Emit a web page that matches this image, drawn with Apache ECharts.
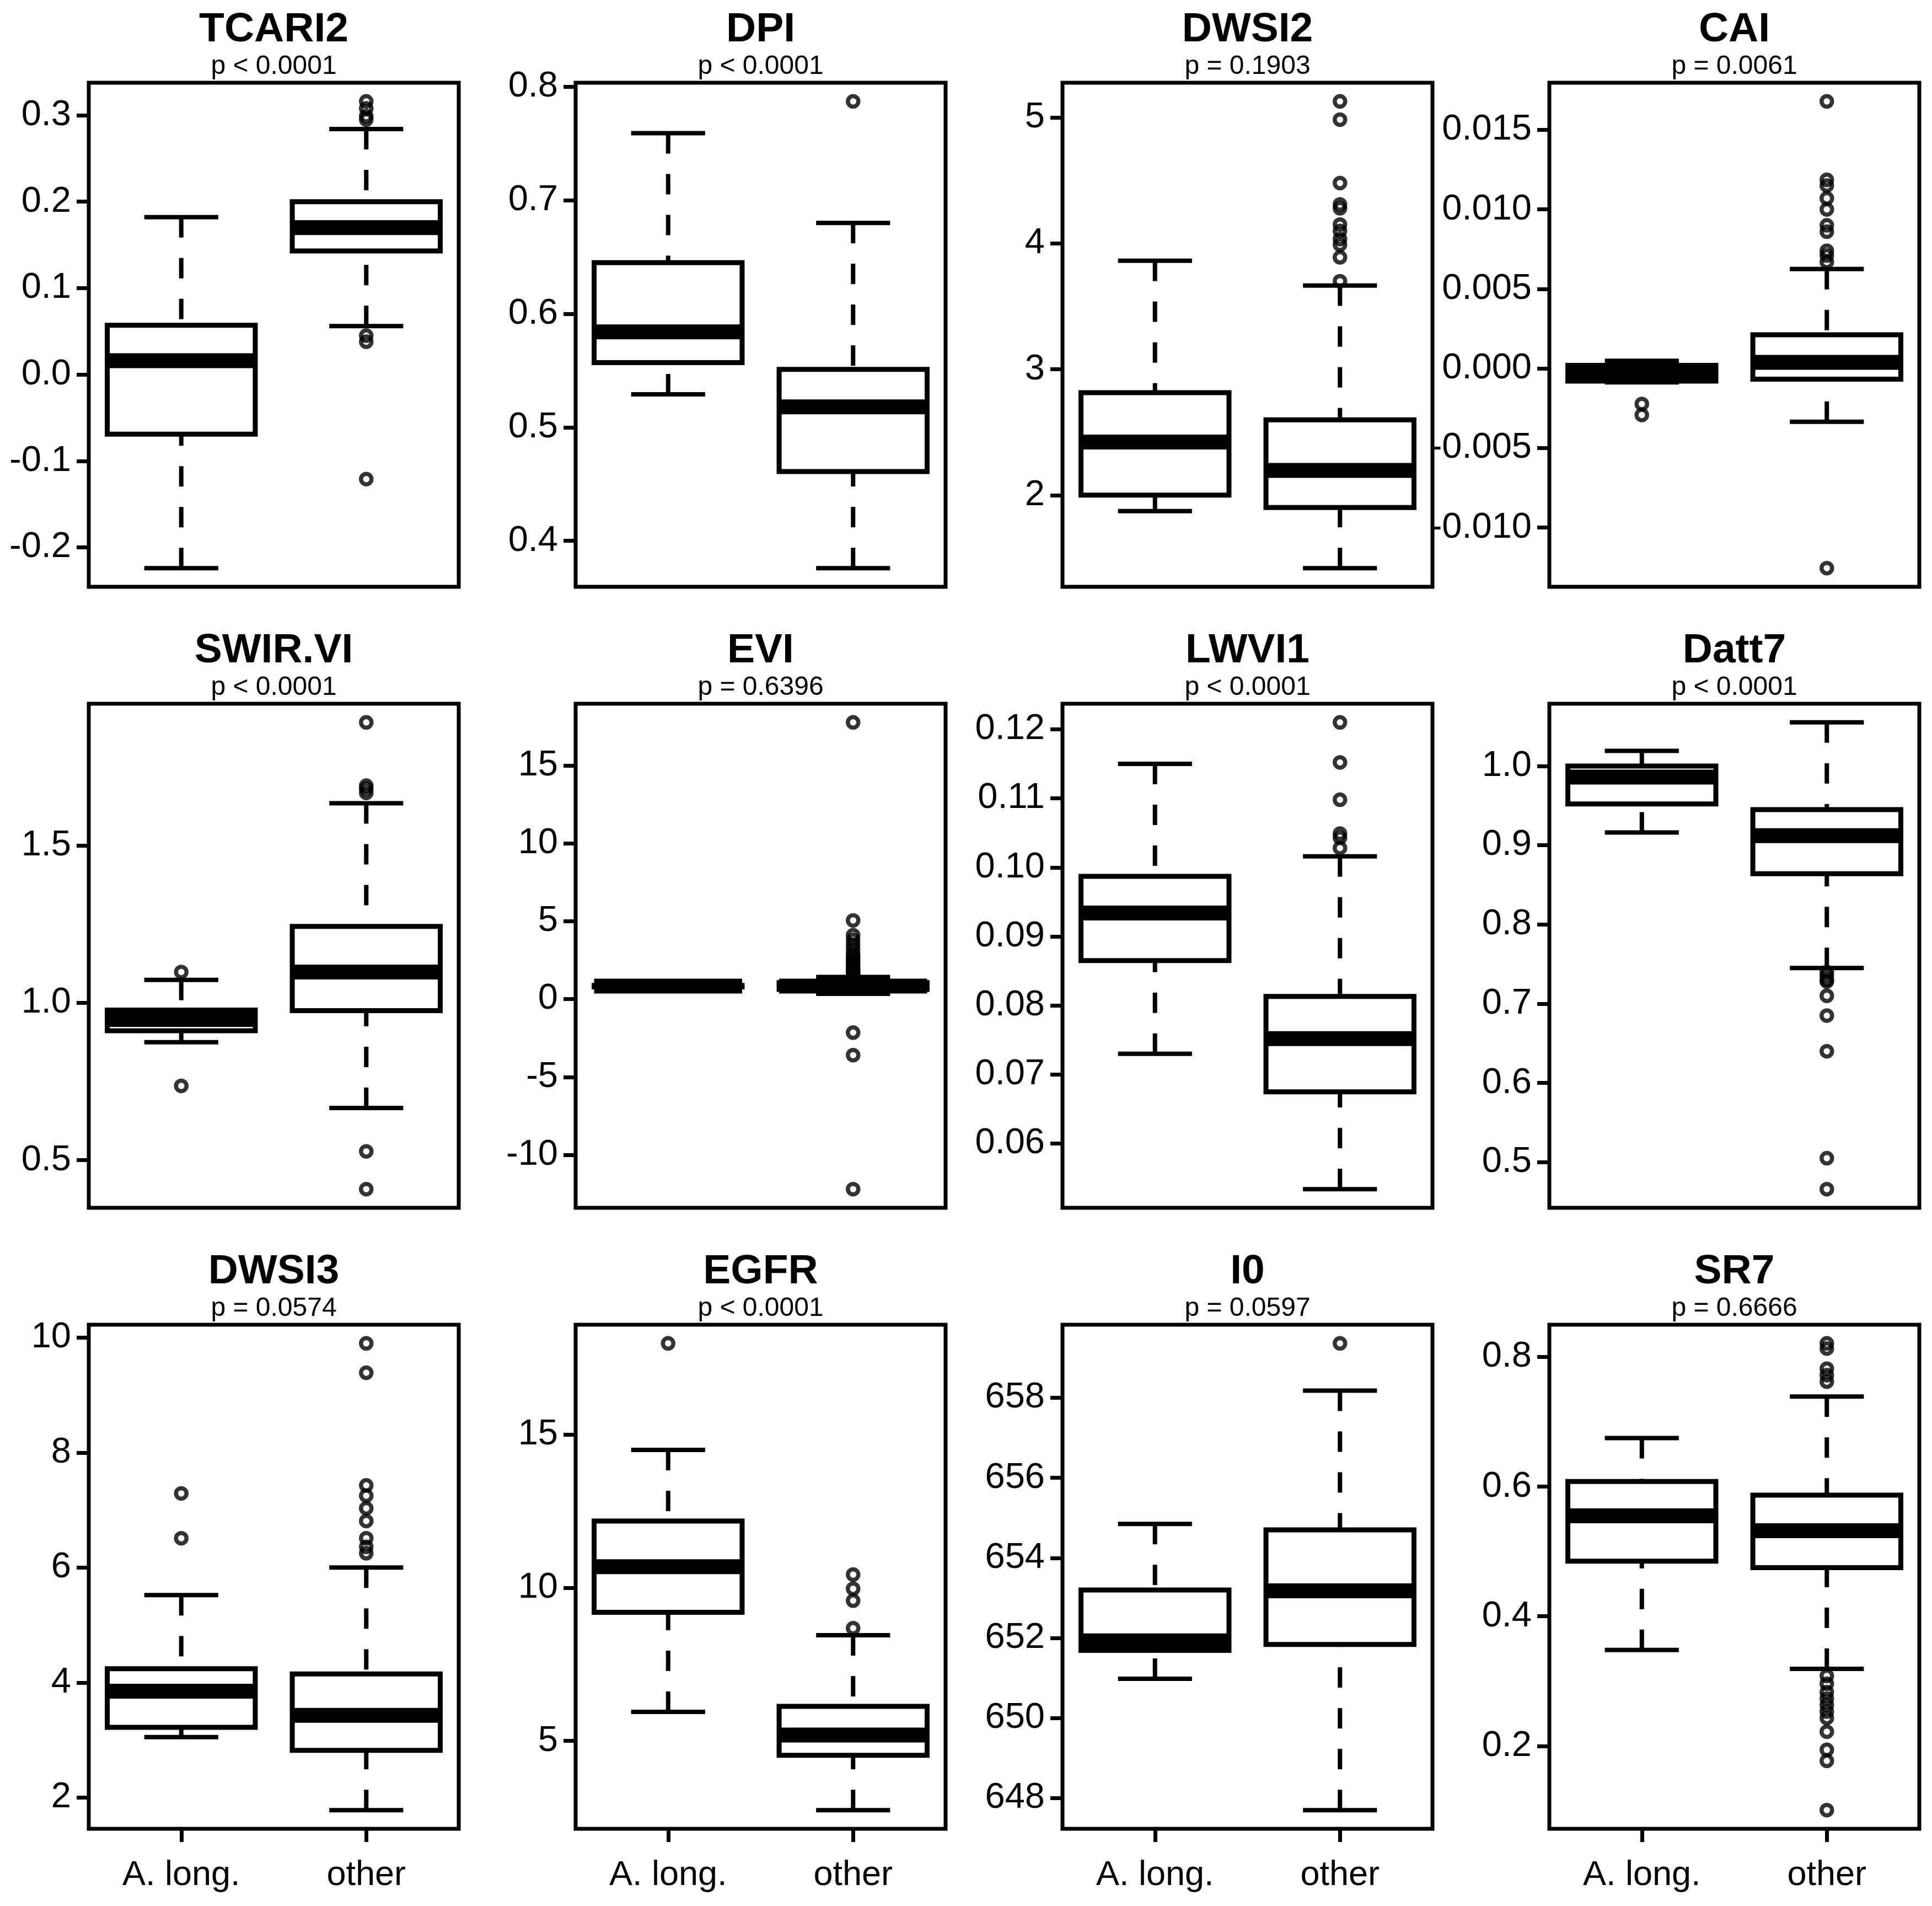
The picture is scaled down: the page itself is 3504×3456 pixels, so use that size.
<!DOCTYPE html>
<html>
<head>
<meta charset="utf-8">
<script src="https://cdn.jsdelivr.net/npm/echarts@6/dist/echarts.min.js"></script>
<style>
  html, body { margin: 0; padding: 0; background: #fff; }
  #chart { width: 3504px; height: 3456px; }
</style>
</head>
<body>
<div id="chart"></div>
<script>
// groups on the x axis
var groups = ['A. long.', 'other'];

// panel titles and p-values
var titles = ['TCARI2', 'DPI', 'DWSI2', 'CAI', 'SWIR.VI', 'EVI', 'LWVI1', 'Datt7', 'DWSI3', 'EGFR', 'I0', 'SR7'];
var pLabels = ['p < 0.0001', 'p < 0.0001', 'p = 0.1903', 'p = 0.0061',
  'p < 0.0001', 'p = 0.6396', 'p < 0.0001', 'p < 0.0001',
  'p = 0.0574', 'p < 0.0001', 'p = 0.0597', 'p = 0.6666'];

// box stats: [lower whisker, Q1, median, Q3, upper whisker] for A. long. / other
var tcari2Box = [[-0.224, -0.069, 0.016, 0.057, 0.182], [0.056, 0.143, 0.170, 0.200, 0.284]];
var dpiBox = [[0.529, 0.557, 0.584, 0.645, 0.759], [0.376, 0.461, 0.518, 0.551, 0.680]];
var dwsi2Box = [[1.873, 2.0, 2.422, 2.814, 3.863], [1.42, 1.902, 2.196, 2.598, 3.666]];
var caiBox = [[-0.00087, -0.00079, -0.00029, 0.0002, 0.00048], [-0.00335, -0.00067, 0.00039, 0.00212, 0.00625]];
var swirBox = [[0.875, 0.911, 0.947, 0.977, 1.073], [0.666, 0.975, 1.098, 1.243, 1.634]];
var eviBox = [[0.72, 0.78, 0.83, 0.88, 0.94], [0.34, 0.62, 0.83, 1.05, 1.42]];
var lwvi1Box = [[0.0730, 0.0865, 0.0934, 0.0987, 0.1150], [0.0534, 0.0675, 0.0752, 0.0813, 0.1016]];
var datt7Box = [[0.916, 0.952, 0.986, 1.0, 1.019], [0.745, 0.864, 0.912, 0.945, 1.055]];
var dwsi3Box = [[3.05, 3.22, 3.85, 4.24, 5.52], [1.78, 2.82, 3.43, 4.15, 6.0]];
var egfrBox = [[5.95, 9.2, 10.69, 12.18, 14.5], [2.74, 4.53, 5.19, 6.13, 8.45]];
var i0Box = [[650.98, 651.69, 651.93, 653.2, 654.85], [647.7, 651.84, 653.18, 654.7, 658.18]];
var sr7Box = [[0.348, 0.485, 0.555, 0.608, 0.675], [0.319, 0.475, 0.532, 0.587, 0.739]];

// outliers for A. long. / other
var tcari2Out = [[], [0.316, 0.308, 0.299, 0.295, 0.045, 0.038, -0.121]];
var dpiOut = [[], [0.787]];
var dwsi2Out = [[], [5.129, 4.984, 4.48, 4.31, 4.28, 4.15, 4.10, 4.035, 3.99, 3.89, 3.70]];
var caiOut = [[-0.00223, -0.00292], [0.01679, 0.01186, 0.0115, 0.0107, 0.0100, 0.0090, 0.0086, 0.0074, 0.0071, 0.0067, -0.01255]];
var swirOut = [[1.098, 0.736], [1.891, 1.69, 1.68, 1.667, 0.528, 0.408]];
var eviOut = [[], [17.76, 5.05, 4.1, 3.8, 3.5, 3.2, 2.92, 2.75, 2.6, 2.45, 2.3, 2.15, 2.0, 1.9, 1.8, 1.7, 1.6, 1.55, -2.15, -3.6, -12.2]];
var lwvi1Out = [[], [0.1210, 0.1152, 0.1098, 0.1049, 0.1043, 0.1028]];
var datt7Out = [[], [0.740, 0.735, 0.730, 0.728, 0.710, 0.685, 0.640, 0.505, 0.466]];
var dwsi3Out = [[7.29, 6.51], [9.90, 9.39, 7.43, 7.25, 7.03, 6.81, 6.51, 6.36, 6.25]];
var egfrOut = [[17.98], [10.43, 9.97, 9.58, 8.68]];
var i0Out = [[], [659.36]];
var sr7Out = [[], [0.821, 0.813, 0.782, 0.772, 0.762, 0.308, 0.296, 0.283, 0.273, 0.263, 0.253, 0.243, 0.222, 0.194, 0.177, 0.101]];

// y tick values
var tcari2Ticks = [-0.2, -0.1, 0.0, 0.1, 0.2, 0.3];
var dpiTicks = [0.4, 0.5, 0.6, 0.7, 0.8];
var dwsi2Ticks = [2, 3, 4, 5];
var caiTicks = [-0.010, -0.005, 0.000, 0.005, 0.010, 0.015];
var swirTicks = [0.5, 1.0, 1.5];
var eviTicks = [-10, -5, 0, 5, 10, 15];
var lwvi1Ticks = [0.06, 0.07, 0.08, 0.09, 0.10, 0.11, 0.12];
var datt7Ticks = [0.5, 0.6, 0.7, 0.8, 0.9, 1.0];
var dwsi3Ticks = [2, 4, 6, 8, 10];
var egfrTicks = [5, 10, 15];
var i0Ticks = [648, 650, 652, 654, 656, 658];
var sr7Ticks = [0.2, 0.4, 0.6, 0.8];
var tickDecimals = [1, 1, 0, 3, 1, 0, 2, 1, 0, 0, 0, 1];

var allBox = [tcari2Box, dpiBox, dwsi2Box, caiBox, swirBox, eviBox, lwvi1Box, datt7Box, dwsi3Box, egfrBox, i0Box, sr7Box];
var allOut = [tcari2Out, dpiOut, dwsi2Out, caiOut, swirOut, eviOut, lwvi1Out, datt7Out, dwsi3Out, egfrOut, i0Out, sr7Out];
var allTicks = [tcari2Ticks, dpiTicks, dwsi2Ticks, caiTicks, swirTicks, eviTicks, lwvi1Ticks, datt7Ticks, dwsi3Ticks, egfrTicks, i0Ticks, sr7Ticks];

// layout
var FONT = 'Liberation Sans, Arial, Helvetica, sans-serif';
var colLeft = [161, 1044, 1927, 2810];
var rowTop = [150, 1276, 2402];
var plotW = 671;
var plotH = 914;

// R style box: dashed whiskers, half-width staples, thick median
function renderBox(params, api) {
  var i = api.value(0);
  var band = api.size([1, 0])[0];
  var half = band * 0.4;
  var sHalf = band * 0.2;
  var pLow = api.coord([i, api.value(1)]);
  var pQ1 = api.coord([i, api.value(2)]);
  var pMed = api.coord([i, api.value(3)]);
  var pQ3 = api.coord([i, api.value(4)]);
  var pHigh = api.coord([i, api.value(5)]);
  var x = pMed[0];
  var dash = { stroke: '#000', lineWidth: 8, lineDash: [37, 37], fill: null };
  var solid = { stroke: '#000', lineWidth: 8, fill: null };
  return {
    type: 'group',
    children: [
      { type: 'line', shape: { x1: x, y1: pLow[1], x2: x, y2: pQ1[1] }, style: dash },
      { type: 'line', shape: { x1: x, y1: pHigh[1], x2: x, y2: pQ3[1] }, style: dash },
      { type: 'line', shape: { x1: x - sHalf, y1: pLow[1], x2: x + sHalf, y2: pLow[1] }, style: solid },
      { type: 'line', shape: { x1: x - sHalf, y1: pHigh[1], x2: x + sHalf, y2: pHigh[1] }, style: solid },
      { type: 'rect', shape: { x: x - half, y: pQ3[1], width: half * 2, height: pQ1[1] - pQ3[1] },
        style: { fill: null, stroke: '#000', lineWidth: 9 } },
      { type: 'line', shape: { x1: x - half, y1: pMed[1], x2: x + half, y2: pMed[1] },
        style: { stroke: '#000', lineWidth: 27 } }
    ]
  };
}

var chart = echarts.init(document.getElementById('chart'), null, { renderer: 'canvas' });

var grids = [], xAxes = [], yAxes = [], series = [], titleList = [];

titles.forEach(function (name, k) {
  var row = Math.floor(k / 4);
  var col = k % 4;
  var left = colLeft[col];
  var top = rowTop[row];
  var box = allBox[k];
  var out = allOut[k];

  // range like R: data extent + 4%
  var vals = [];
  box.forEach(function (b) { vals = vals.concat(b); });
  out.forEach(function (o) { vals = vals.concat(o); });
  var lo = Math.min.apply(null, vals);
  var hi = Math.max.apply(null, vals);
  var pad = (hi - lo) * 0.04;

  grids.push({
    left: left, top: top, width: plotW, height: plotH,
    show: true, borderColor: '#000', borderWidth: 7, backgroundColor: 'transparent'
  });

  xAxes.push({
    type: 'category', gridIndex: k, data: groups, boundaryGap: true,
    axisLine: { show: false },
    axisTick: { show: row === 2, alignWithLabel: true, length: 24, lineStyle: { color: '#000', width: 7 } },
    axisLabel: { show: row === 2, color: '#000', fontSize: 63, fontFamily: FONT, margin: 53 },
    splitLine: { show: false }
  });

  var dec = tickDecimals[k];
  yAxes.push({
    type: 'value', gridIndex: k, min: lo - pad, max: hi + pad,
    axisLine: { show: false },
    axisTick: { show: true, length: 22, customValues: allTicks[k], lineStyle: { color: '#000', width: 7 } },
    axisLabel: {
      customValues: allTicks[k], color: '#000', fontSize: 65, fontFamily: FONT, margin: 32,
      formatter: function (v) { return Number(v).toFixed(dec); }
    },
    splitLine: { show: false }
  });

  series.push({
    type: 'custom', xAxisIndex: k, yAxisIndex: k, renderItem: renderBox,
    encode: { x: 0, y: [1, 2, 3, 4, 5] },
    data: box.map(function (b, g) { return [g].concat(b); }),
    silent: true, z: 3
  });

  var pts = [];
  out.forEach(function (o, g) { o.forEach(function (v) { pts.push([g, v]); }); });
  series.push({
    type: 'scatter', xAxisIndex: k, yAxisIndex: k, data: pts,
    symbol: 'circle', symbolSize: 19, silent: true, z: 4,
    itemStyle: { color: 'rgba(0,0,0,0)', borderColor: '#000', borderWidth: 7.5 }
  });

  var cx = left + plotW / 2;
  titleList.push({
    text: name, left: cx, top: top - 133, textAlign: 'center', padding: 0,
    textStyle: { fontSize: 75, fontWeight: 'bold', color: '#000', fontFamily: FONT, lineHeight: 75 }
  });
  titleList.push({
    text: pLabels[k], left: cx, top: top - 53, textAlign: 'center', padding: 0,
    textStyle: { fontSize: 48, fontWeight: 'normal', color: '#000', fontFamily: FONT, lineHeight: 48 }
  });
});

chart.setOption({
  backgroundColor: '#fff',
  animation: false,
  title: titleList,
  grid: grids,
  xAxis: xAxes,
  yAxis: yAxes,
  series: series
});
</script>
</body>
</html>
